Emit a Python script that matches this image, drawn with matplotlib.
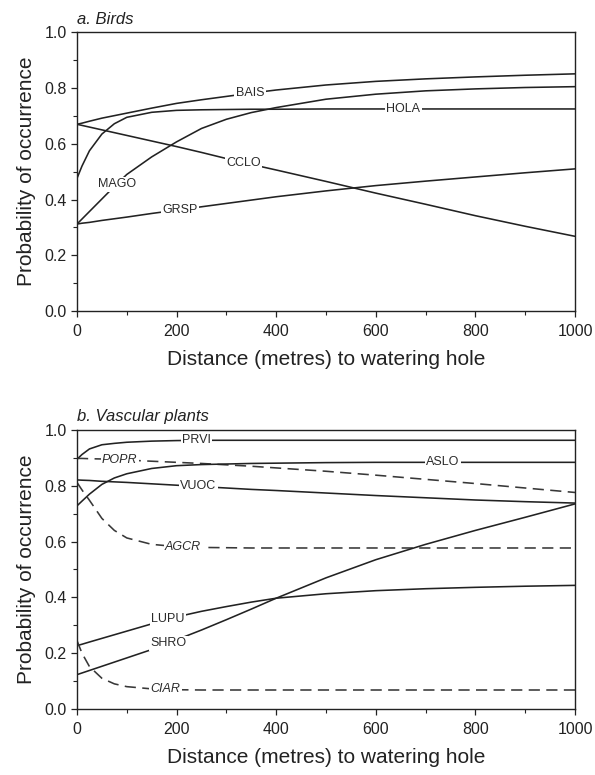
import numpy as np
import matplotlib
matplotlib.use("Agg")
import matplotlib.pyplot as plt
from matplotlib.ticker import MultipleLocator, FormatStrFormatter

plt.rcParams['font.family'] = ['Liberation Sans', 'DejaVu Sans']

# Distance (m) from watering hole at which the fitted probabilities are listed
dist = [0, 10, 25, 50, 75, 100, 150, 200, 250, 300, 350, 400, 500, 600, 700,
        800, 900, 1000]

# a. Birds
bais = [0.670, 0.674, 0.681, 0.692, 0.701, 0.710, 0.728, 0.745, 0.758, 0.770,
        0.782, 0.793, 0.811, 0.824, 0.833, 0.840, 0.846, 0.851]
hola = [0.476, 0.520, 0.575, 0.635, 0.672, 0.695, 0.713, 0.720, 0.722, 0.723,
        0.724, 0.724, 0.725, 0.725, 0.725, 0.725, 0.725, 0.725]
mago = [0.312, 0.330, 0.357, 0.402, 0.447, 0.490, 0.553, 0.607, 0.655, 0.688,
        0.712, 0.730, 0.760, 0.778, 0.790, 0.797, 0.802, 0.805]
cclo = [0.670, 0.666, 0.660, 0.650, 0.640, 0.630, 0.610, 0.590, 0.569, 0.547,
        0.526, 0.506, 0.465, 0.423, 0.383, 0.342, 0.304, 0.268]
grsp = [0.312, 0.315, 0.318, 0.325, 0.331, 0.337, 0.350, 0.362, 0.374, 0.386,
        0.398, 0.410, 0.431, 0.450, 0.466, 0.481, 0.496, 0.510]

# b. Vascular plants
prvi = [0.895, 0.912, 0.932, 0.947, 0.952, 0.956, 0.960, 0.962, 0.963, 0.963,
        0.963, 0.963, 0.963, 0.963, 0.963, 0.963, 0.963, 0.963]
popr = [0.898, 0.898, 0.897, 0.896, 0.894, 0.892, 0.888, 0.884, 0.880, 0.875,
        0.870, 0.864, 0.852, 0.838, 0.823, 0.808, 0.792, 0.776]
aslo = [0.728, 0.745, 0.770, 0.805, 0.828, 0.843, 0.862, 0.872, 0.876, 0.878,
        0.880, 0.881, 0.883, 0.884, 0.884, 0.884, 0.884, 0.884]
vuoc = [0.821, 0.820, 0.819, 0.816, 0.814, 0.812, 0.807, 0.802, 0.797, 0.792,
        0.787, 0.783, 0.774, 0.765, 0.757, 0.749, 0.743, 0.738]
agcr = [0.812, 0.785, 0.748, 0.683, 0.640, 0.613, 0.590, 0.582, 0.579, 0.578,
        0.577, 0.577, 0.577, 0.577, 0.577, 0.577, 0.577, 0.577]
lupu = [0.227, 0.232, 0.240, 0.253, 0.266, 0.279, 0.305, 0.330, 0.350, 0.367,
        0.383, 0.397, 0.413, 0.424, 0.431, 0.436, 0.440, 0.443]
shro = [0.123, 0.129, 0.138, 0.153, 0.168, 0.183, 0.213, 0.248, 0.283, 0.320,
        0.358, 0.397, 0.470, 0.535, 0.590, 0.640, 0.687, 0.735]
ciar = [0.245, 0.200, 0.152, 0.110, 0.090, 0.080, 0.072, 0.069, 0.068, 0.068,
        0.068, 0.068, 0.068, 0.068, 0.068, 0.068, 0.068, 0.068]

# (name, values, dashed, label distance)
birds = [
    ("BAIS", bais, False, 347),
    ("HOLA", hola, False, 655),
    ("MAGO", mago, False, 80),
    ("CCLO", cclo, False, 334),
    ("GRSP", grsp, False, 207),
]
plants = [
    ("PRVI", prvi, False, 240),
    ("POPR", popr, True, 86),
    ("ASLO", aslo, False, 735),
    ("VUOC", vuoc, False, 244),
    ("AGCR", agcr, True, 213),
    ("LUPU", lupu, False, 183),
    ("SHRO", shro, False, 183),
    ("CIAR", ciar, True, 177),
]

INK = "#222222"
DASH = "#383838"

fig = plt.figure(figsize=(5.95, 7.75), dpi=100)
ax_a = fig.add_axes([0.1294, 0.5987, 0.8370, 0.3596])
ax_b = fig.add_axes([0.1294, 0.0852, 0.8370, 0.3600])


def draw_panel(ax, series, title):
    for name, vals, dashed, lx in series:
        if dashed:
            ax.plot(dist, vals, color=DASH, lw=1.15, ls=(0, (7, 4)), zorder=2)
        else:
            ax.plot(dist, vals, color=INK, lw=1.15, zorder=2)
        ly = np.interp(lx, dist, vals)
        ax.text(lx, ly, name, fontsize=9, ha="center", va="center",
                style="italic" if dashed else "normal", color="#2a2a2a",
                bbox=dict(boxstyle="square,pad=0.12", fc="white", ec="none"),
                zorder=3)
    ax.set_xlim(0, 1000)
    ax.set_ylim(0, 1.0)
    ax.xaxis.set_major_locator(MultipleLocator(200))
    ax.xaxis.set_minor_locator(MultipleLocator(100))
    ax.yaxis.set_major_locator(MultipleLocator(0.2))
    ax.yaxis.set_minor_locator(MultipleLocator(0.1))
    ax.yaxis.set_major_formatter(FormatStrFormatter("%.1f"))
    ax.tick_params(which="major", direction="out", length=4, width=0.9,
                   labelsize=11.5, pad=3.5, colors=INK)
    ax.tick_params(which="minor", direction="out", length=3, width=0.8,
                   colors=INK)
    ax.tick_params(axis="x", which="major", pad=5.5)
    for sp in ax.spines.values():
        sp.set_linewidth(1.0)
        sp.set_color(INK)
    ax.set_xlabel("Distance (metres) to watering hole", fontsize=15,
                  labelpad=8, color=INK)
    ax.set_ylabel("Probability of occurrence", fontsize=15, labelpad=6,
                  color=INK)
    ax.text(0.0, 1.02, title, transform=ax.transAxes, fontsize=12,
            style="italic", ha="left", va="bottom", color=INK)


draw_panel(ax_a, birds, "a. Birds")
draw_panel(ax_b, plants, "b. Vascular plants")

fig.savefig("out.png", dpi=100)
